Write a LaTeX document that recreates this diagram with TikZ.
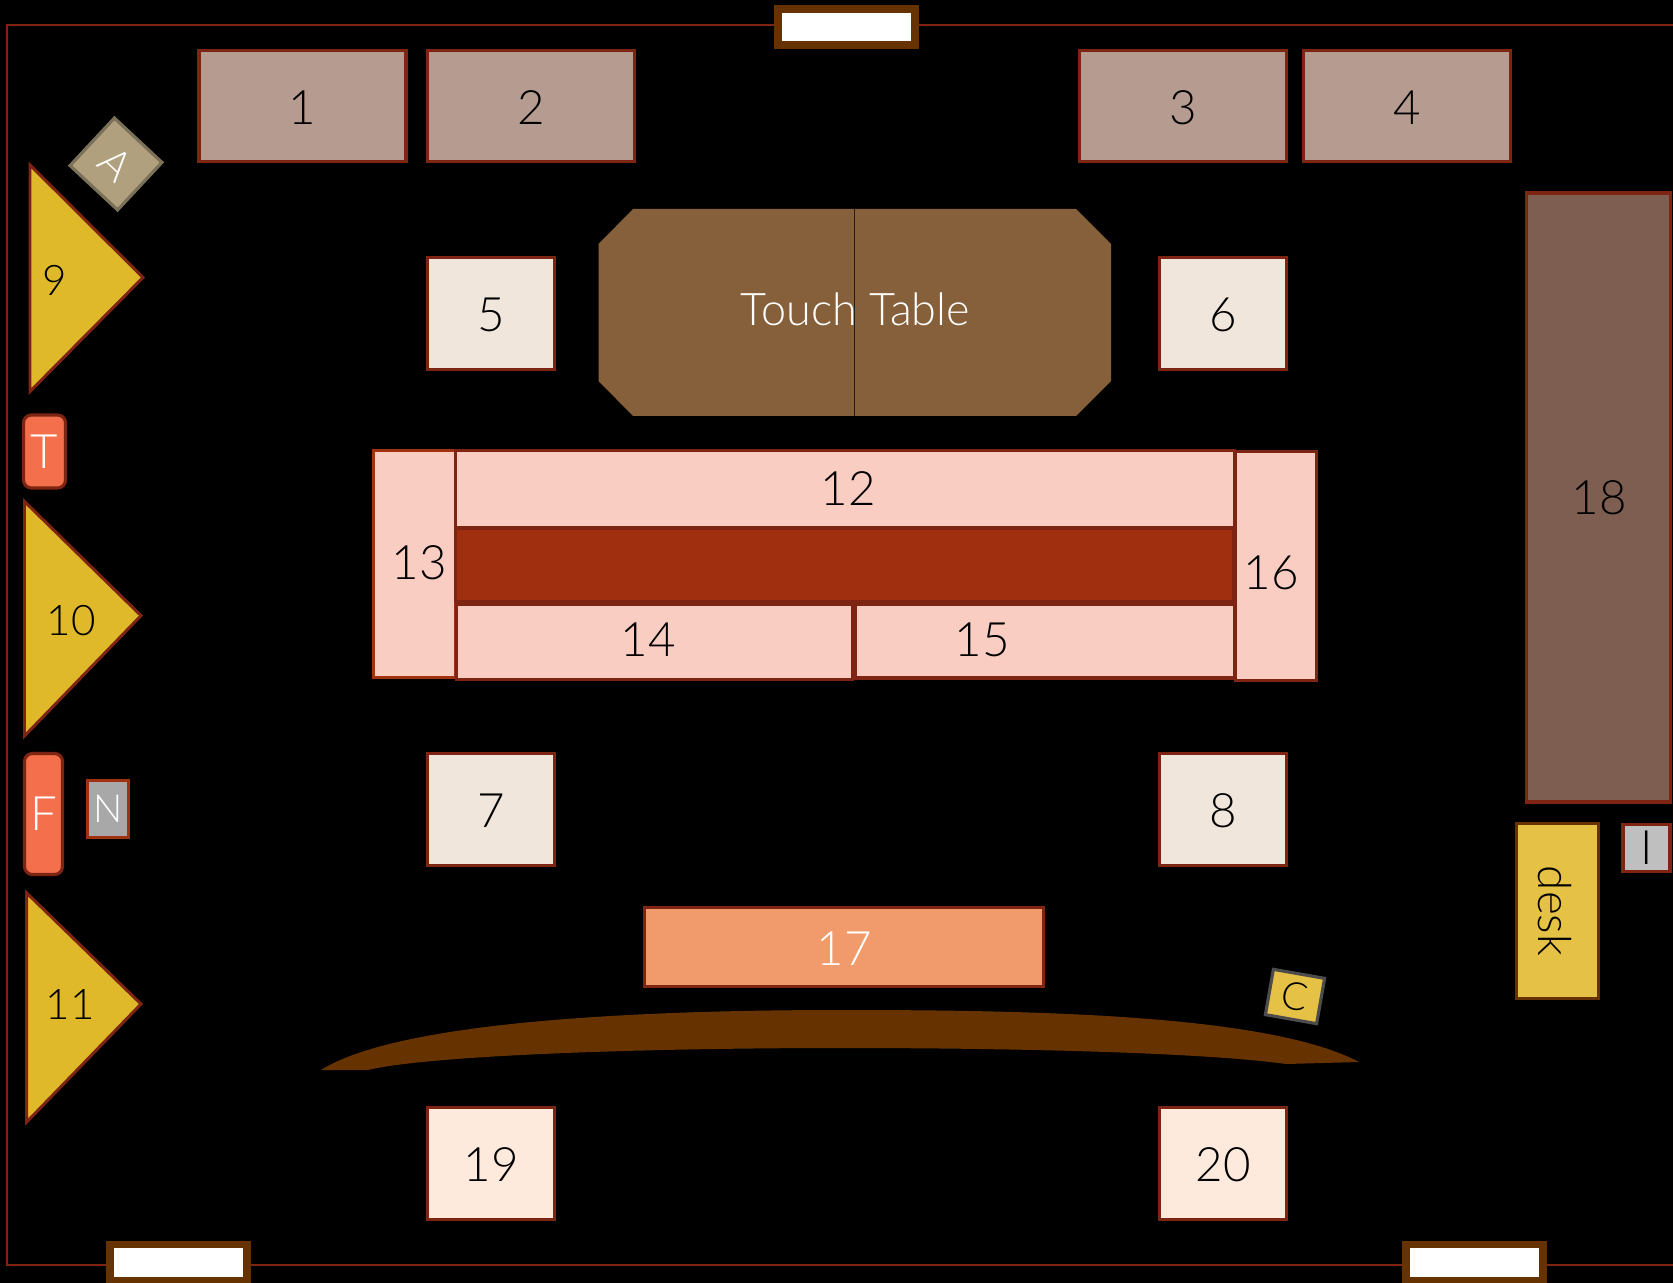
\documentclass[tikz,border=0pt]{standalone}
\usepackage{fontspec}
\setmainfont{Lato}[UprightFont=* Light]
\usetikzlibrary{positioning}
\definecolor{wallred}{HTML}{7D2412}
\definecolor{brightred}{HTML}{A03212}
\definecolor{woodbrown}{HTML}{663300}
\definecolor{sofabrown}{HTML}{B69C90}
\definecolor{chaircream}{HTML}{F0E6DC}
\definecolor{chairpeach}{HTML}{FEEADC}
\definecolor{tablepink}{HTML}{F9CDC2}
\definecolor{tablered}{HTML}{A02F0F}
\definecolor{seatyellow}{HTML}{E0B92A}
\definecolor{deskyellow}{HTML}{E5C246}
\definecolor{boardorange}{HTML}{F19A6C}
\definecolor{tallbrown}{HTML}{7E5E50}
\definecolor{touchbrown}{HTML}{86603A}
\definecolor{tagorange}{HTML}{F4704C}
\definecolor{tagtan}{HTML}{B0A07E}
\tikzset{
	box/.style 2 args={rectangle,draw=wallred,line width=1.8pt,inner sep=0pt,outer sep=0pt,
		minimum width=#1*0.02cm,minimum height=#2*0.02cm,font=\fontsize{27}{27}\selectfont},
	numbered/.style={text height=20.8pt},
	window/.style={box={137}{36},draw=woodbrown,fill=white,line width=4.3pt},
	tag/.style 2 args={box={#1}{#2},rounded corners=4.5pt,fill=tagorange,text=white},
	seat/.style={draw=wallred,fill=seatyellow,line width=1.7pt,line join=miter},
	label/.style={inner sep=0pt,font=\fontsize{27}{27}\selectfont},
	seatlabel/.style={inner sep=0pt,font=\fontsize{24}{24}\selectfont}
}
\begin{document}
\begin{tikzpicture}[x=0.02cm,y=-0.02cm]
	\fill[black] (0,0) rectangle (1673,1283);
	\useasboundingbox (0,0) rectangle (1673,1283);
	\coordinate (wall1) at (1680,25);
	\coordinate (wall2) at (7,25);
	\coordinate (wall3) at (7,1265);
	\coordinate (wall4) at (1680,1265);
	\draw[wallred,line width=1.5pt] (wall1) -- (wall2) -- (wall3) -- (wall4);
	
	\node[window] (w1) at (846.5,27) {};
	\node[window] (w2) at (178.5,1262.5) {};
	\node[window] (w3) at (1474.5,1262.5) {};
	
	\foreach \name/\x/\txt in {s1/302.5/1, s2/531/2, s3/1183/3, s4/1407/4}
	\node[box={207}{111},numbered,fill=sofabrown] (\name) at (\x,106) {\txt};
	
	\foreach \name/\x/\y/\txt in {c5/491/313.5/5, c6/1223/313.5/6, c7/491/809.5/7, c8/1223/809.5/8}
	\node[box={127}{112},numbered,fill=chaircream] (\name) at (\x,\y) {\txt};
	\foreach \name/\x/\txt in {c19/491/19, c20/1223/20}
	\node[box={127}{112},numbered,fill=chairpeach] (\name) at (\x,1163.5) {\txt};
	
	\coordinate (touchtop) at (854.5,209);
	\coordinate (touchbot) at (854.5,416);
	\fill[touchbrown] (633,209) -- (1076,209) -- (1111,244) -- (1111,381) -- (1076,416)
		-- (633,416) -- (598.5,381) -- (598.5,244) -- cycle;
	\draw[black!70!touchbrown,line width=0.6pt] (touchtop) -- (touchbot);
	\node[label,text=white,font=\fontsize{25.6}{26}\selectfont] (touchlabel) at (855.5,309) {Touch Table};
	
	\node[box={82}{227},fill=tablepink,draw=brightred] (t13) at (414.5,564) {};
	\node[box={779}{77},fill=tablepink] (t12) at (845,489) {};
	\node[box={379}{74},fill=tablepink] (t15) at (1045,641) {};
	\node[box={396}{75.5},fill=tablepink] (t14) at (654.5,642) {};
	\node[box={778}{73},fill=tablered] (t0) at (844.5,565) {};
	\node[box={81}{229},fill=tablepink] (t16) at (1276,566) {};
	\node[label] (l12) at (848,489) {12};
	\node[label] (l13) at (419.5,563) {13};
	\node[label] (l14) at (648,640) {14};
	\node[label] (l15) at (982,640) {15};
	\node[label] (l16) at (1271,573) {16};
	
	\node[box={399}{79},numbered,fill=boardorange,text=white] (s17) at (844,947) {17};
	\node[box={144}{609},fill=tallbrown] (s18) at (1598.5,497.5) {};
	\node[label] (l18) at (1599,498) {18};
	
	\node[box={82}{175},fill=deskyellow,draw=woodbrown] (desk) at (1557.5,911) {};
	\node[label,rotate=-90,font=\fontsize{26}{26}\selectfont] (desklabel) at (1555,911) {desk};
	\node[box={47}{47},fill=black!25,font=\fontsize{27}{27}\selectfont] (iso) at (1646.5,848) {I};
	\node[box={41}{57},fill=black!34,draw=brightred,text=white,font=\fontsize{22}{22}\selectfont] (n) at (108,809) {N};
	\node[tag={42}{73}] (t) at (44.5,451.5) {T};
	\node[tag={38}{121}] (f) at (43.5,814) {F};
	
	\node[box={52}{46},rotate=-10,fill=deskyellow,draw=black!70,font=\fontsize{22}{22}\selectfont] (cam) at (1295,996.5) {C};
	\node[box={65}{65},rotate=-43,fill=tagtan,draw=tagtan!70!black,text=white,font=\fontsize{24}{24}\selectfont] (a) at (116,164) {A};
	
	\draw[seat] (30,165) -- (143,277.5) -- (30,391.5) -- cycle;
	\draw[seat] (24.5,501.5) -- (141,615.6) -- (24.5,736) -- cycle;
	\draw[seat] (26.7,893) -- (141,1004) -- (26.7,1122) -- cycle;
	\node[seatlabel] (l9) at (55,280.5) {9};
	\node[seatlabel] (l10) at (71,621) {10};
	\node[seatlabel] (l11) at (70,1005) {11};
	
	\fill[woodbrown] (321,1070) .. controls (400,1020) and (650,1010) .. (843,1010)
		.. controls (1040,1010) and (1270,1015) .. (1359,1062) -- (1286,1064)
		.. controls (1200,1052) and (1000,1048) .. (843,1048)
		.. controls (650,1048) and (430,1055) .. (368,1070) -- cycle;
\end{tikzpicture}
\end{document}
